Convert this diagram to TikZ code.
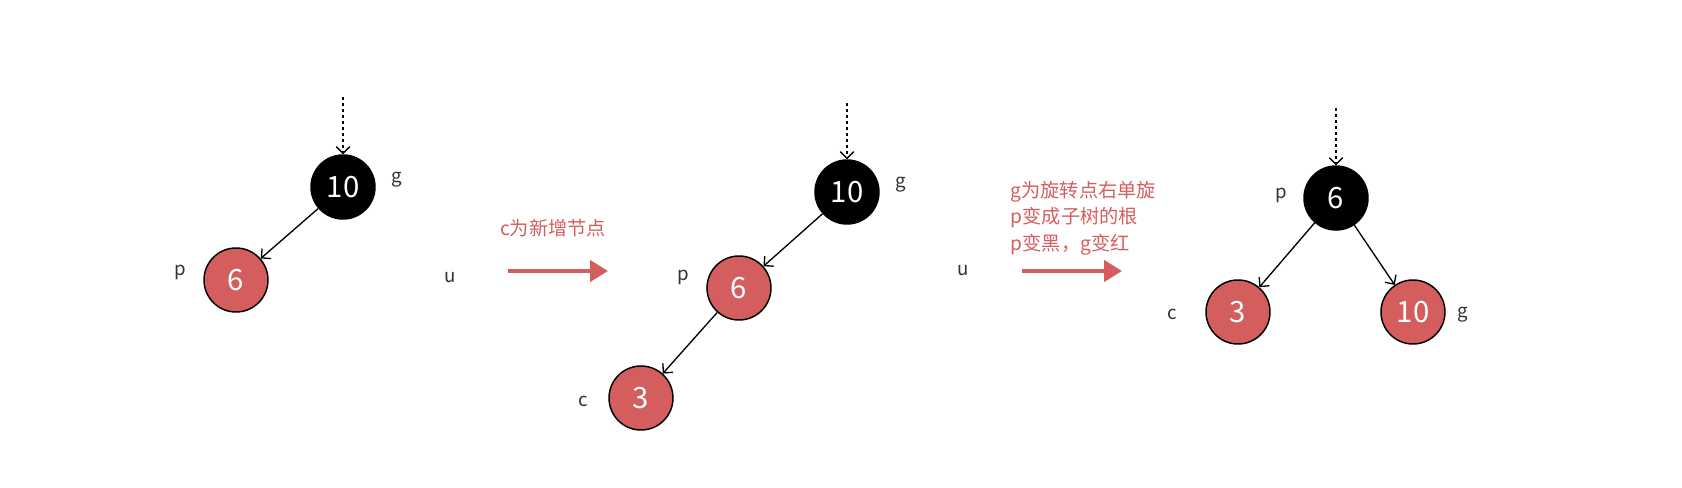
\documentclass[tikz,border=0pt]{standalone}
\usepackage{fontspec}
\setmainfont{Noto Sans CJK SC}
\usetikzlibrary{arrows.meta, positioning}
\definecolor{rbred}{RGB}{212,94,94}
\definecolor{taggray}{RGB}{50,50,50}

\begin{document}
\begin{tikzpicture}[x=0.75pt, y=-0.75pt,
    rbnode/.style={circle, draw=black, line width=1.1pt, minimum size=48pt, inner sep=0pt,
        text=white, font=\fontsize{22}{22}\selectfont},
    blk/.style={rbnode, fill=black},
    red/.style={rbnode, fill=rbred},
    tag/.style={text=taggray, font=\fontsize{14}{14}\selectfont},
    note/.style={text=rbred, font=\fontsize{14.4}{20}\selectfont, align=left},
    link/.style={-{Straight Barb[length=5pt, width=10pt]}, line width=1pt},
    upper/.style={link, dash pattern=on 2.5pt off 2pt},
    turn/.style={-{Triangle[length=13.5pt, width=16pt]}, line width=2.6pt, draw=rbred},
    >=Stealth]
\useasboundingbox (0,0) rectangle (1682,488);

% Left tree g p
\node[blk] (g1) at (343,187) {10};
\node[red] (p1) at (236,280) {6};
\coordinate (in1) at (343,97);
\draw[upper] (in1) -- (g1);
\draw[link] (g1) -- (p1);
\node[tag] (g1l) at (397,180) {g};
\node[tag] (p1l) at (180,272) {p};
\node[tag] (u1l) at (450,278) {u};

% First step
\node[note] (n1) at (553,228) {c为新增节点};
\coordinate (a1) at (508,271);
\coordinate (b1) at (608,271);
\draw[turn] (a1) -- (b1);

% Middle tree g p c
\node[blk] (g2) at (847,192) {10};
\node[red] (p2) at (739,288) {6};
\node[red] (c2) at (641,398) {3};
\coordinate (in2) at (847,103);
\draw[upper] (in2) -- (g2);
\draw[link] (g2) -- (p2);
\draw[link] (p2) -- (c2);
\node[tag] (g2l) at (901,185) {g};
\node[tag] (p2l) at (683,277) {p};
\node[tag] (c2l) at (583,401) {c};
\node[tag] (u2l) at (963,271) {u};

% Second step
\node[note, anchor=west] (n2) at (1006,218) {g为旋转点右单旋\\p变成子树的根\\p变黑，g变红};
\coordinate (a2) at (1022,271);
\coordinate (b2) at (1122,271);
\draw[turn] (a2) -- (b2);

% Right tree p c g
\node[blk] (p3) at (1336,198) {6};
\node[red] (c3) at (1238,312) {3};
\node[red] (g3) at (1413,312) {10};
\coordinate (in3) at (1336,108);
\draw[upper] (in3) -- (p3);
\draw[link] (p3) -- (c3);
\draw[link] (p3) -- (g3);
\node[tag] (p3l) at (1281,195) {p};
\node[tag] (c3l) at (1172,314) {c};
\node[tag] (g3l) at (1463,315) {g};
\end{tikzpicture}
\end{document}
